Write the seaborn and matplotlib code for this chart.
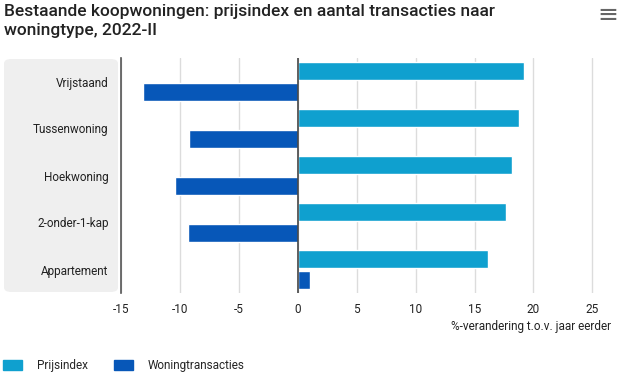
import matplotlib
matplotlib.use("Agg")
import matplotlib.pyplot as plt
import pandas as pd
import seaborn as sns
from matplotlib.patches import FancyBboxPatch

categories = ["Vrijstaand", "Tussenwoning", "Hoekwoning", "2-onder-1-kap", "Appartement"]
prijsindex = [19.2, 18.8, 18.2, 17.7, 16.1]
transacties = [-13.1, -9.2, -10.4, -9.3, 1.05]
series = ["Prijsindex", "Woningtransacties"]
colors = ["#0fa0cf", "#0757b8"]

df = pd.DataFrame({
    "woningtype": categories * 2,
    "serie": [series[0]] * len(categories) + [series[1]] * len(categories),
    "waarde": prijsindex + transacties,
})

sns.set_style("white")
plt.rcParams["font.family"] = ["Roboto", "DejaVu Sans"]

fig = plt.figure(figsize=(6.25, 3.76), dpi=100)
ax = fig.add_axes([121 / 625, 1 - 293 / 376, (616 - 121) / 625, 235 / 376])

# grijs vlak achter de categorie-labels
panel = FancyBboxPatch((4 / 625, 1 - 292 / 376), 114 / 625, 233 / 376,
                       boxstyle="round,pad=0,rounding_size=0.012",
                       transform=fig.transFigure, facecolor="#efefef",
                       edgecolor="none", zorder=-5)
fig.patches.append(panel)

sns.barplot(data=df, x="waarde", y="woningtype", hue="serie", orient="h",
            palette=colors, saturation=1, width=0.86, gap=0.1, ax=ax,
            legend=False, zorder=3)

ax.set_xlim(-15, 27)
ax.set_xticks([-15, -10, -5, 0, 5, 10, 15, 20, 25])
ax.set_xticklabels(["-15", "-10", "-5", "0", "5", "10", "15", "20", "25"])
ax.xaxis.grid(True, color="#dcdcdc", linewidth=1, zorder=0)
ax.set_axisbelow(True)
ax.patch.set_alpha(0)
for s in ["top", "right", "bottom"]:
    ax.spines[s].set_visible(False)
ax.spines["left"].set_color("#555555")
ax.spines["left"].set_linewidth(1.2)
ax.axvline(0, color="#444444", linewidth=1.2, zorder=4)

ax.tick_params(axis="x", length=4, color="#cccccc", labelsize=8.5, labelcolor="#222222", pad=3)
ax.tick_params(axis="y", length=0, labelsize=8.5, labelcolor="#222222", pad=9)
ax.set_ylabel("")
ax.set_xlabel("%-verandering t.o.v. jaar eerder", fontsize=8.5, color="#222222",
              loc="right", labelpad=5)
ax.xaxis.set_label_coords(0.99, -0.115)

fig.text(4 / 625, 1 - 4 / 376,
         "Bestaande koopwoningen: prijsindex en aantal transacties naar\nwoningtype, 2022-II",
         ha="left", va="top", fontsize=12.5, fontweight="medium", color="#222222",
         linespacing=1.3)
fig.text(0.972, 1 - 15 / 376, "\u2261", ha="center", va="center", fontsize=18,
         color="#666666", family="DejaVu Sans")

handles = [plt.Rectangle((0, 0), 1, 1, color=c) for c in colors]
fig.legend(handles, series, loc="lower left", bbox_to_anchor=(-8 / 625, -0.018), ncol=2,
           frameon=False, fontsize=8.5, handlelength=1.6, handleheight=0.9,
           columnspacing=2.2, handletextpad=1.3)

fig.savefig("out.png", dpi=100)
